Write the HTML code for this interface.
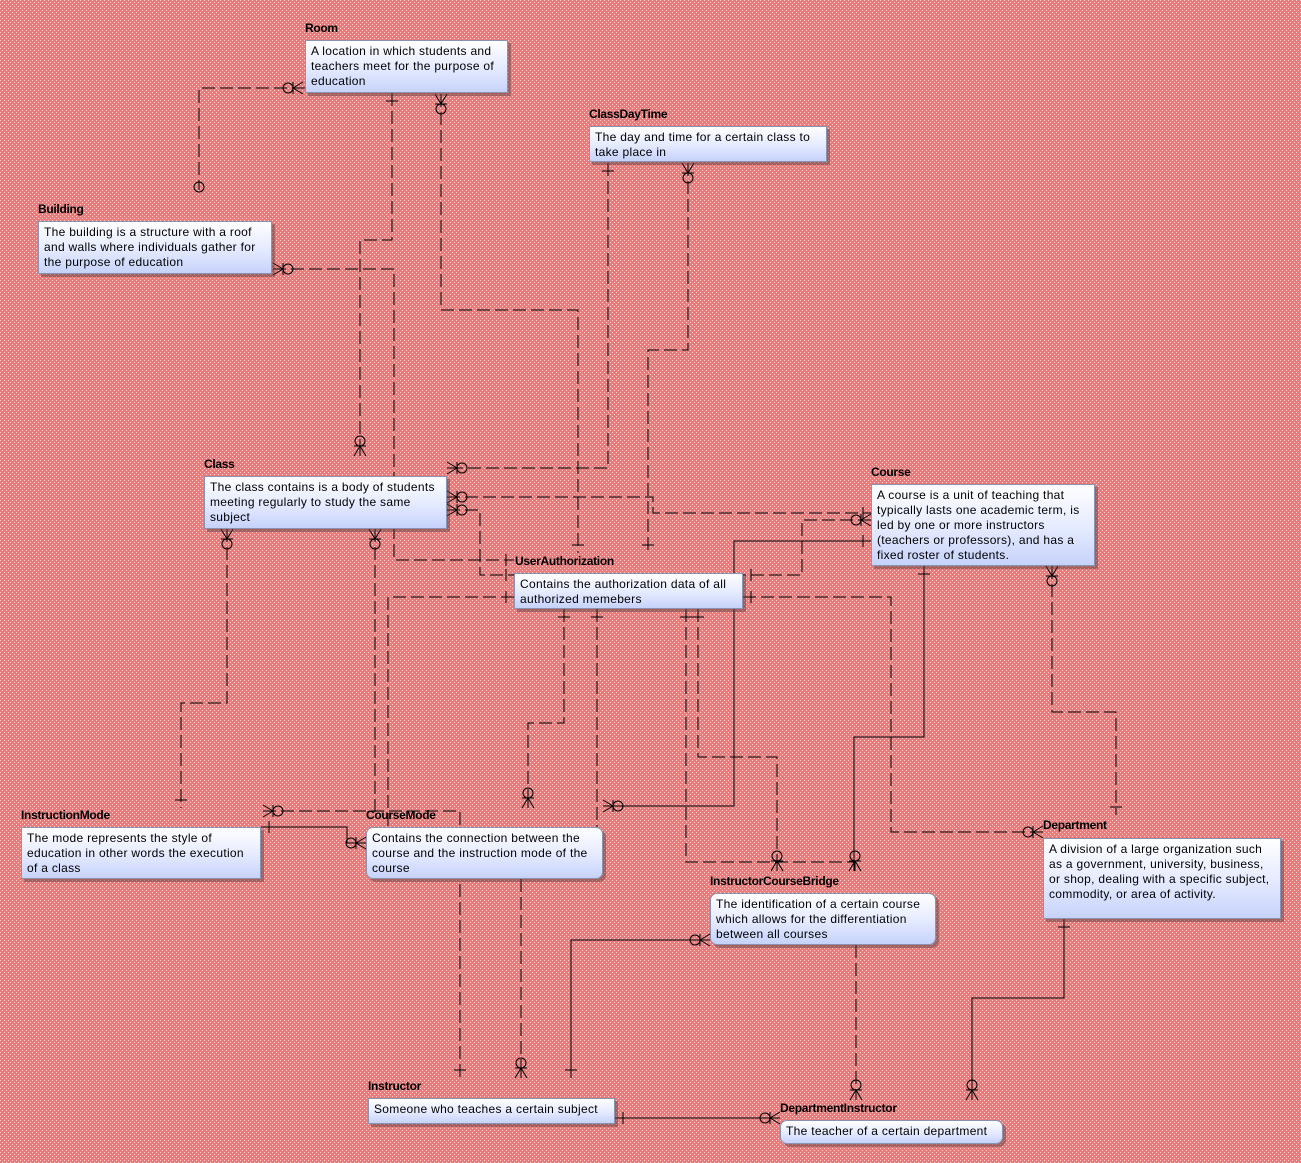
<!DOCTYPE html>
<html><head><meta charset="utf-8"><style>
body{margin:0;width:1301px;height:1163px;overflow:hidden;font-family:"Liberation Sans",sans-serif;}
.t{position:absolute;font-weight:bold;font-size:12px;color:#000;letter-spacing:-0.3px}
.b{position:absolute;box-sizing:border-box;border:1px solid #8a93b0;background:linear-gradient(#ffffff,#e4eaff 55%,#c6d2fa);box-shadow:3px 3px 0 rgba(90,60,60,.45);font-size:12px;line-height:15px;padding:3px 5px;color:#000;letter-spacing:0.3px}
.r{border-radius:7px}
</style></head><body>
<svg width="1301" height="1163" style="position:absolute;left:0;top:0">
<defs>
<pattern id="p" width="4" height="4" patternUnits="userSpaceOnUse">
<rect width="4" height="4" fill="#ea7b7b"/><rect x="0" y="0" width="1" height="1" fill="#fcd0d0"/><rect x="2" y="2" width="1" height="1" fill="#fcd0d0"/></pattern>
<g id="zm" fill="none" stroke="#000" stroke-width="1"><path d="M0 -10 L-6 0 M0 -10 L0 0 M0 -10 L6 0"/><circle cx="0" cy="-15" r="5"/><path d="M-6 -10 H6"/></g>
<g id="one" stroke="#000"><path d="M-6 -8 H6"/></g>
<g id="co" fill="none" stroke="#000"><circle cx="0" cy="-8" r="5"/></g>
</defs>
<rect width="1301" height="1163" fill="url(#p)"/>
<g fill="none" stroke="#000" stroke-width="1">
<g stroke-dasharray="13,5">
<path d="M305 88 H199 V190"/>
<path d="M392 93 V240 H360 V456"/>
<path d="M441 94 V310 H578 V553"/>
<path d="M608 163 V468 H447"/>
<path d="M688 163 V350 H648 V553"/>
<path d="M273 269 H394 V560 H514"/>
<path d="M447 497 H653 V513 H871"/>
<path d="M447 510 H480 V575 H514"/>
<path d="M871 520 H802 V575 H743"/>
<path d="M514 597 H388 V827"/>
<path d="M227 529 V703 H181 V808"/>
<path d="M375 529 V815"/>
<path d="M1052 566 V712 H1116 V815"/>
<path d="M743 597 H891 V832 H1043"/>
<path d="M564 609 V723 H528 V808"/>
<path d="M597 609 V827"/>
<path d="M686 609 V862 H855"/>
<path d="M698 609 V757 H777 V871"/>
<path d="M263 811 H460 V1078"/>
<path d="M521 879 V1078"/>
<path d="M856 945 V1100"/>
</g>
<path d="M871 541 H734 V806 H603"/>
<path d="M924 566 V737 H854 V871"/>
<path d="M261 827 H347 V843 H366"/>
<path d="M710 940 H571 V1078"/>
<path d="M1064 919 V998 H972 V1100"/>
<path d="M615 1118 H780"/>
</g>
<use href="#zm" transform="translate(303 88) rotate(-90)"/>
<use href="#one" transform="translate(392 93) rotate(180)"/>
<use href="#zm" transform="translate(441 94) rotate(180)"/>
<use href="#co" transform="translate(199 195)"/>
<use href="#zm" transform="translate(273 269) rotate(90)"/>
<use href="#zm" transform="translate(360 456)"/>
<use href="#one" transform="translate(608 163) rotate(180)"/>
<use href="#zm" transform="translate(688 163) rotate(180)"/>
<use href="#zm" transform="translate(447 468) rotate(90)"/>
<use href="#zm" transform="translate(447 497) rotate(90)"/>
<use href="#zm" transform="translate(447 510) rotate(90)"/>
<use href="#zm" transform="translate(871 520) rotate(-90)"/>
<use href="#one" transform="translate(871 513) rotate(-90)"/>
<use href="#one" transform="translate(871 541) rotate(-90)"/>
<use href="#one" transform="translate(578 553)"/>
<use href="#one" transform="translate(648 553)"/>
<use href="#one" transform="translate(514 560) rotate(-90)"/>
<use href="#one" transform="translate(514 575) rotate(-90)"/>
<use href="#one" transform="translate(514 597) rotate(-90)"/>
<use href="#one" transform="translate(743 575) rotate(90)"/>
<use href="#one" transform="translate(743 597) rotate(90)"/>
<use href="#one" transform="translate(564 609) rotate(180)"/>
<use href="#one" transform="translate(597 609) rotate(180)"/>
<use href="#one" transform="translate(686 609) rotate(180)"/>
<use href="#one" transform="translate(698 609) rotate(180)"/>
<use href="#zm" transform="translate(227 529) rotate(180)"/>
<use href="#zm" transform="translate(375 529) rotate(180)"/>
<use href="#one" transform="translate(181 808)"/>
<use href="#zm" transform="translate(263 811) rotate(90)"/>
<use href="#one" transform="translate(261 827) rotate(90)"/>
<use href="#zm" transform="translate(528 808)"/>
<use href="#zm" transform="translate(366 843) rotate(-90)"/>
<use href="#zm" transform="translate(603 806) rotate(90)"/>
<use href="#one" transform="translate(924 566) rotate(180)"/>
<use href="#zm" transform="translate(1052 566) rotate(180)"/>
<use href="#one" transform="translate(1116 815)"/>
<use href="#zm" transform="translate(1043 832) rotate(-90)"/>
<use href="#one" transform="translate(1064 919) rotate(180)"/>
<use href="#zm" transform="translate(777 871)"/>
<use href="#zm" transform="translate(855 871)"/>
<use href="#zm" transform="translate(710 940) rotate(-90)"/>
<use href="#one" transform="translate(460 1078)"/>
<use href="#zm" transform="translate(521 1078)"/>
<use href="#one" transform="translate(571 1078)"/>
<use href="#one" transform="translate(615 1118) rotate(90)"/>
<use href="#zm" transform="translate(856 1100)"/>
<use href="#zm" transform="translate(972 1100)"/>
<use href="#zm" transform="translate(780 1118) rotate(-90)"/>
</svg>

<div class="t" style="left:305px;top:21px">Room</div>
<div class="b" style="left:305px;top:40px;width:203px;height:53px">A location in which students and teachers meet for the purpose of education</div>
<div class="t" style="left:589px;top:107px">ClassDayTime</div>
<div class="b" style="left:589px;top:126px;width:238px;height:36px">The day and time for a certain class to take place in</div>
<div class="t" style="left:38px;top:202px">Building</div>
<div class="b" style="left:38px;top:221px;width:234px;height:53px">The building is a structure with a roof and walls where individuals gather for the purpose of education</div>
<div class="t" style="left:204px;top:457px">Class</div>
<div class="b" style="left:204px;top:476px;width:243px;height:53px">The class contains is a body of students meeting regularly to study the same subject</div>
<div class="t" style="left:871px;top:465px">Course</div>
<div class="b" style="left:871px;top:484px;width:224px;height:82px">A course is a unit of teaching that typically lasts one academic term, is led by one or more instructors (teachers or professors), and has a fixed roster of students.</div>
<div class="t" style="left:515px;top:554px">UserAuthorization</div>
<div class="b" style="left:514px;top:573px;width:229px;height:36px">Contains the authorization data of all authorized memebers</div>
<div class="t" style="left:21px;top:808px">InstructionMode</div>
<div class="b" style="left:21px;top:827px;width:240px;height:52px">The mode represents the style of education in other words the execution of a class</div>
<div class="t" style="left:366px;top:808px">CourseMode</div>
<div class="b r" style="left:366px;top:827px;width:237px;height:52px">Contains the connection between the course and the instruction mode of the course</div>
<div class="t" style="left:710px;top:874px">InstructorCourseBridge</div>
<div class="b r" style="left:710px;top:893px;width:226px;height:52px">The identification of a certain course which allows for the differentiation between all courses</div>
<div class="t" style="left:1043px;top:818px">Department</div>
<div class="b" style="left:1043px;top:838px;width:238px;height:81px">A division of a large organization such as a government, university, business, or shop, dealing with a specific subject, commodity, or area of activity.</div>
<div class="t" style="left:368px;top:1079px">Instructor</div>
<div class="b" style="left:368px;top:1098px;width:247px;height:26px">Someone who teaches a certain subject</div>
<div class="t" style="left:780px;top:1101px">DepartmentInstructor</div>
<div class="b r" style="left:780px;top:1120px;width:223px;height:24px;padding-top:3px">The teacher of a certain department</div>
</body></html>
